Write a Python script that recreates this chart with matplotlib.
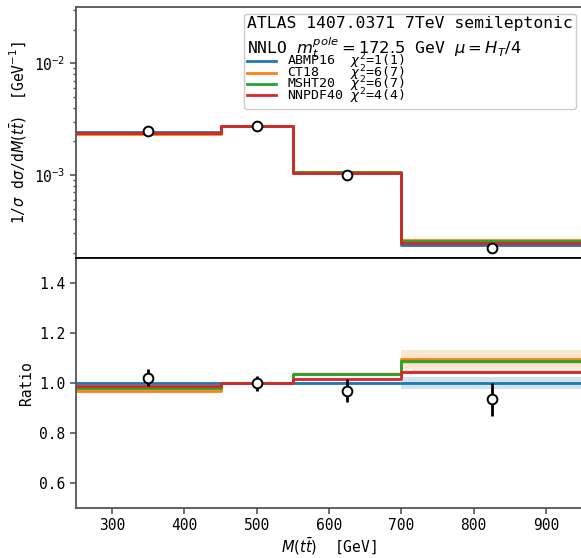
import numpy as np
import matplotlib
matplotlib.use("Agg")
import matplotlib.pyplot as plt

plt.rcParams["font.family"] = ["DejaVu Sans Mono"]
plt.rcParams["mathtext.fontset"] = "dejavusans"

# Bin edges of M(tt) [GeV]
edges = [250, 450, 550, 700, 950]
centers = [350, 500, 625, 825]

# Normalised predictions 1/sigma dsigma/dM [GeV^-1]
pdf_names = ["ABMP16", "CT18", "MSHT20", "NNPDF40"]
chi2_labels = ["1(1)", "6(7)", "6(7)", "4(4)"]
abmp16 = [2.420e-3, 2.730e-3, 1.030e-3, 2.370e-4]
ct18 = [2.347e-3, 2.730e-3, 1.069e-3, 2.595e-4]
msht20 = [2.367e-3, 2.730e-3, 1.066e-3, 2.574e-4]
nnpdf40 = [2.389e-3, 2.730e-3, 1.048e-3, 2.477e-4]

# Relative PDF uncertainties per bin
abmp16_unc = [0.005, 0.004, 0.005, 0.023]
ct18_unc = [0.008, 0.004, 0.006, 0.035]
msht20_unc = [0.004, 0.003, 0.004, 0.010]
nnpdf40_unc = [0.003, 0.002, 0.004, 0.008]

# Measurement and relative uncertainty
data = [2.470e-3, 2.727e-3, 0.999e-3, 2.214e-4]
data_rel_err = [0.033, 0.030, 0.048, 0.071]

colors = ["#1f77b4", "#ff7f0e", "#2ca02c", "#d62728"]
preds = [abmp16, ct18, msht20, nnpdf40]
uncs = [abmp16_unc, ct18_unc, msht20_unc, nnpdf40_unc]

W, H = 581, 558
fig = plt.figure(figsize=(W / 100, H / 100), dpi=100)
left, right = 76 / W, 582 / W
ax1 = fig.add_axes([left, (H - 258) / H, right - left, (258 - 7) / H])
ax2 = fig.add_axes([left, (H - 508) / H, right - left, (508 - 258) / H], sharex=ax1)

spine_col = "#555555"
for ax in (ax1, ax2):
    for s in ax.spines.values():
        s.set_color(spine_col)
        s.set_linewidth(1.3)
    ax.tick_params(axis="both", which="both", color=spine_col, labelsize=10.5,
                   direction="out")
    ax.tick_params(axis="both", which="major", length=4, width=1.2)
    ax.tick_params(axis="both", which="minor", length=2.5, width=1.0)
ax2.spines["top"].set_color("black")

def step_vals(v):
    return list(v) + [v[-1]]

# Top panel: absolute predictions
handles = []
for name, chi, p, c in zip(pdf_names, chi2_labels, preds, colors):
    (h,) = ax1.step(edges, step_vals(p), where="post", color=c, lw=2.0,
                    label=f"{name:<7s} $\\chi^2$={chi}")
    handles.append(h)
ax1.plot(centers, data, "o", mfc="white", mec="black", mew=1.4, ms=7,
         zorder=5)
ax1.set_yscale("log")
ax1.set_ylim(1.8e-4, 3.2e-2)
ax1.set_xlim(250, 950)
ax1.tick_params(axis="x", which="both", bottom=False, labelbottom=False)
ax1.set_ylabel(r"1/$\sigma$ d$\sigma$/d$M(t\bar{t})$  [GeV$^{-1}$]", fontsize=10.5)

leg = ax1.legend(handles=handles, loc="upper right", fontsize=9.5,
                 title="ATLAS 1407.0371 7TeV semileptonic\n"
                       r"NNLO $m_t^{pole}=172.5$ GeV $\mu=H_T/4$",
                 title_fontsize=11.8, labelspacing=-0.62, handlelength=2.2,
                 handletextpad=0.8, borderpad=0.22, borderaxespad=0.0,
                 framealpha=1.0, bbox_to_anchor=(0.988, 0.974))
leg._legend_box.align = "left"

# Bottom panel: ratio to ABMP16
ref = np.array(abmp16)
for p, u, c in zip(preds, uncs, colors):
    r = np.array(p) / ref
    lo = r * (1 - np.array(u))
    hi = r * (1 + np.array(u))
    ax2.fill_between(edges, step_vals(lo), step_vals(hi), step="post",
                     color=c, alpha=0.2, lw=0)
for p, c in zip(preds, colors):
    r = np.array(p) / ref
    ax2.step(edges, step_vals(r), where="post", color=c, lw=2.0)
dr = np.array(data) / ref
ax2.errorbar(centers, dr, yerr=dr * np.array(data_rel_err), fmt="o",
             mfc="white", mec="black", mew=1.4, ms=7, ecolor="black",
             elinewidth=2.0, capsize=0, zorder=5)
ax2.set_ylim(0.5, 1.5)
ax2.set_yticks([0.6, 0.8, 1.0, 1.2, 1.4])
ax2.set_xticks([300, 400, 500, 600, 700, 800, 900])
ax2.set_ylabel("Ratio", fontsize=10.5)
ax2.set_xlabel(r"$M(t\bar{t})$  [GeV]", fontsize=10.5, labelpad=2)

fig.savefig("out.png", dpi=100)
